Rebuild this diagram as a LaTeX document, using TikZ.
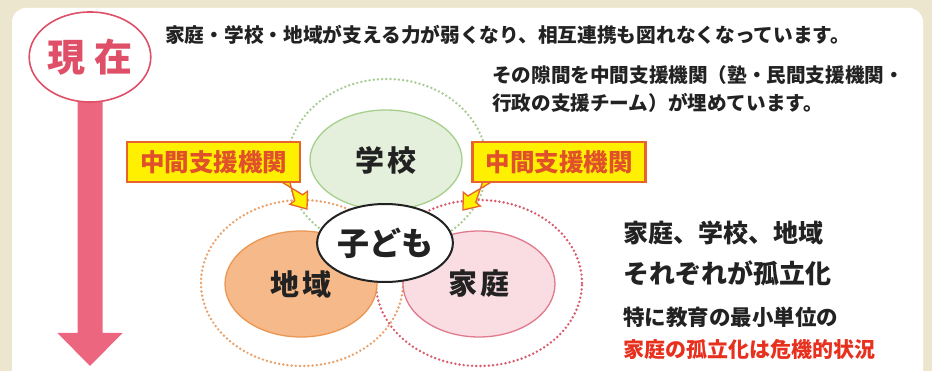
\documentclass[tikz,border=0pt]{standalone}
\usepackage{fontspec}
\setmainfont{Noto Sans CJK JP}
\usetikzlibrary{shapes.geometric,calc}
\definecolor{bgbeige}{HTML}{EDE6CF}
\definecolor{nowred}{HTML}{DF4F67}
\definecolor{arrowpink}{HTML}{EC6680}
\definecolor{txt}{HTML}{222222}
\definecolor{schoolfill}{HTML}{E4F0DB}
\definecolor{schooldraw}{HTML}{A6CF8E}
\definecolor{areafill}{HTML}{F6B98A}
\definecolor{areadraw}{HTML}{EA9752}
\definecolor{homefill}{HTML}{FADCE3}
\definecolor{homedraw}{HTML}{E07A8C}
\definecolor{dotgreen}{HTML}{A9CC93}
\definecolor{dotorange}{HTML}{EAA169}
\definecolor{dotred}{HTML}{D85A6C}
\definecolor{boxyellow}{HTML}{FFF000}
\definecolor{boxorange}{HTML}{E8642A}
\definecolor{boxtext}{HTML}{E0502A}
\definecolor{alertred}{HTML}{E8301E}
\newcommand\fsz[1]{\fontsize{#1}{#1}\selectfont}
\newcommand\yarr[2]{%
  \coordinate (#1b) at ($(#2)!14pt!(#1)$);
  \filldraw[fill=boxyellow, draw=boxorange, line width=1.3pt, line join=miter]
    ($(#1)!5pt!90:(#2)$) -- ($(#1b)!5pt!-90:(#2)$) -- ($(#1b)!11pt!-90:(#2)$) -- (#2)
    -- ($(#1b)!11pt!90:(#2)$) -- ($(#1b)!5pt!90:(#2)$) -- ($(#1)!5pt!-90:(#2)$) -- cycle;}
\begin{document}
\begin{tikzpicture}[x=1pt,y=-1pt,
  dotring/.style={ellipse, draw=#1, line width=2.7pt, dash pattern=on 0pt off 4.2pt, line cap=round, inner sep=0pt},
  bubble/.style={ellipse, inner sep=0pt, line width=1.3pt, text=txt, font=\fsz{29}\bfseries},
  midbox/.style={draw=boxorange, fill=boxyellow, line width=2.2pt, text=boxtext, font=\fsz{24.5}\bfseries, minimum width=173pt, minimum height=40pt, inner sep=0pt},
  plain/.style={text=txt, inner sep=0pt, anchor=west}]
\useasboundingbox (0,0) rectangle (932,371);
\fill[bgbeige] (0,0) rectangle (932,371);
\fill[white, rounded corners=14pt] (12,8) rectangle (923,400);

% present arrow
\coordinate (headbase) at (90,333);
\coordinate (tip) at (90,366);
\coordinate (shafttop) at (90,95);
\fill[arrowpink] ([xshift=-12.5pt]shafttop) -- ([xshift=-12.5pt]headbase) -- ([xshift=-32.5pt]headbase) -- (tip)
  -- ([xshift=32.5pt]headbase) -- ([xshift=12.5pt]headbase) -- ([xshift=12.5pt]shafttop) -- cycle;
\node[ellipse, draw=nowred, line width=1.6pt, fill=white, minimum width=118pt, minimum height=90pt, inner sep=0pt, text=nowred, font=\fsz{38}\bfseries] (now) at (90,57) {現\hspace{10pt}在};

% texts
\node[plain, font=\fsz{19.7}\bfseries] (t1) at (165,35) {家庭・学校・地域が支える力が弱くなり、相互連携も図れなくなっています。};
\node[plain, font=\fsz{19.6}\bfseries] (t2) at (492,75) {その隙間を中間支援機関（塾・民間支援機関・};
\node[plain, font=\fsz{19.6}\bfseries] (t3) at (492,103) {行政の支援チーム）が埋めています。};

% dotted rings
\node[dotring=dotgreen, minimum width=200pt, minimum height=172pt] (ringS) at (387,165) {};
\node[dotring=dotorange, minimum width=202pt, minimum height=166pt] (ringA) at (302,283) {};
\node[dotring=dotred, minimum width=206pt, minimum height=166pt] (ringH) at (479,283) {};

% bubbles
\node[bubble, draw=schooldraw, fill=schoolfill, minimum width=152pt, minimum height=100pt] (school) at (386,160) {学\hspace{4pt}校};
\node[bubble, draw=areadraw, fill=areafill, minimum width=152pt, minimum height=106pt] (area) at (301,284) {地\hspace{4pt}域};
\node[bubble, draw=homedraw, fill=homefill, minimum width=152pt, minimum height=106pt] (home) at (479,284) {家\hspace{4pt}庭};
\node[bubble, draw=txt, fill=white, line width=2pt, minimum width=126pt, minimum height=78pt, font=\fsz{32}\bfseries] (child) at (385,243) {子ども};

% intermediate support boxes
\coordinate (lt) at (307,209);
\coordinate (rt) at (463,210);
\coordinate (ls) at (284,178);
\coordinate (rs) at (489,178);
\yarr{ls}{lt}
\yarr{rs}{rt}
\node[midbox] (lbox) at (213.5,162) {中間支援機関};
\node[midbox] (rbox) at (559,162) {中間支援機関};

% right texts
\node[plain, font=\fsz{25}\bfseries] (r1) at (623,233) {家庭、学校、地域};
\node[plain, font=\fsz{26}\bfseries] (r2) at (623,273) {それぞれが孤立化};
\node[plain, font=\fsz{21.5}\bfseries] (r3) at (623,317) {特に教育の最小単位の};
\node[plain, font=\fsz{21}\bfseries, text=alertred] (r4) at (623,350) {家庭の孤立化は危機的状況};
\end{tikzpicture}
\end{document}
